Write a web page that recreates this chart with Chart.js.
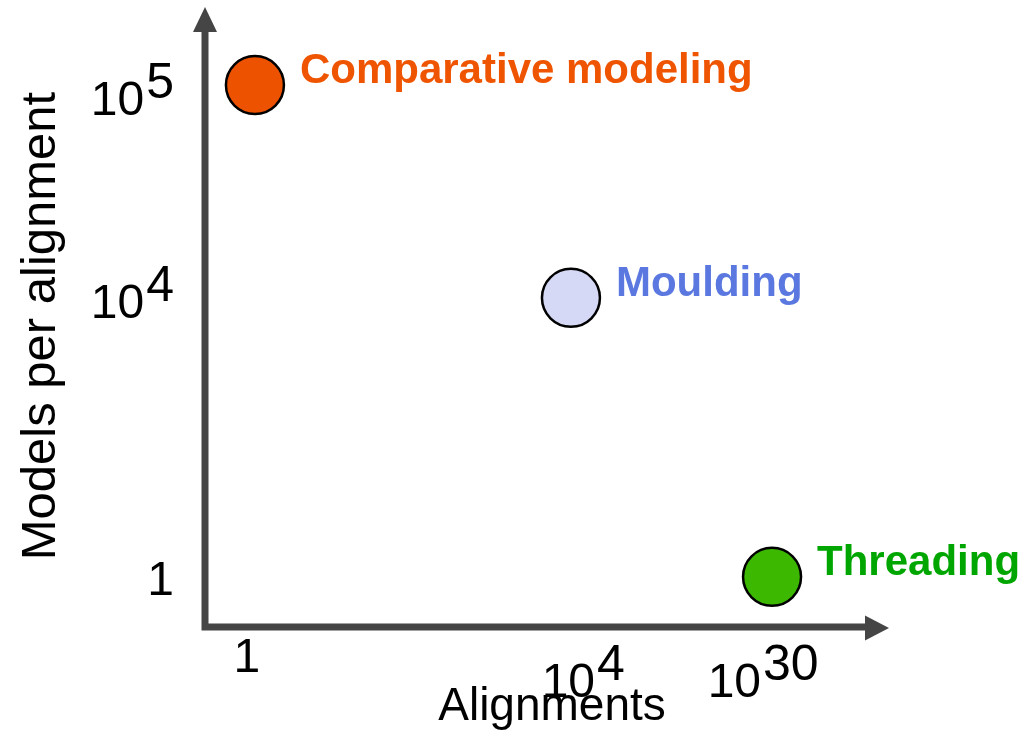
<!DOCTYPE html>
<html>
<head>
<meta charset="utf-8">
<script src="https://cdn.jsdelivr.net/npm/chart.js@4/dist/chart.umd.min.js"></script>
<style>
  html, body { margin: 0; padding: 0; background: #fff; }
  #wrap { width: 1033px; height: 734px; position: relative; }
</style>
</head>
<body>
<div id="wrap"><canvas id="chart"></canvas></div>
<script>
// schematic positions (axis units 0..10)
const methods   = ['Comparative modeling', 'Moulding', 'Threading'];
const alignPos  = [0.73, 5.35, 8.29];
const modelsPos = [8.74, 5.31, 0.81];
const fills     = ['#ec5200', '#d5d9f5', '#3cb800'];
const labelCols = ['#ef5500', '#5a78e0', '#00a600'];

const xTickPos  = [0.61, 5.53, 8.16];
const xTickBase = ['1', '10', '10'];
const xTickExp  = ['', '4', '30'];
const yTickPos  = [8.54, 5.27, 0.80];
const yTickBase = ['10', '10', '1'];
const yTickExp  = ['5', '4', ''];

const FONT = '"Liberation Sans", Arial, Helvetica, sans-serif';
const AXIS = '#454545';

// measure "10" + superscript as one label
function powWidth(ctx, base, exp) {
  ctx.font = '48px ' + FONT;
  let w = ctx.measureText(base).width;
  if (exp) {
    ctx.font = '50px ' + FONT;
    w += 2 + ctx.measureText(exp).width;
  }
  return w;
}

function drawPow(ctx, base, exp, left, baseline) {
  ctx.textAlign = 'left';
  ctx.textBaseline = 'alphabetic';
  ctx.font = '48px ' + FONT;
  ctx.fillText(base, left, baseline);
  if (exp) {
    const bw = ctx.measureText(base).width;
    ctx.font = '50px ' + FONT;
    ctx.fillText(exp, left + bw + 2, baseline - 17);
  }
}

const schematic = {
  id: 'schematic',
  beforeDatasetsDraw(chart) {
    const { ctx, chartArea: a } = chart;
    ctx.save();
    ctx.strokeStyle = AXIS;
    ctx.fillStyle = AXIS;
    ctx.lineWidth = 7;
    ctx.lineJoin = 'miter';
    ctx.beginPath();
    ctx.moveTo(a.left, a.top + 25);
    ctx.lineTo(a.left, a.bottom);
    ctx.lineTo(a.right - 24, a.bottom);
    ctx.stroke();
    // arrow heads
    ctx.beginPath();
    ctx.moveTo(a.left, a.top);
    ctx.lineTo(a.left + 12, a.top + 25);
    ctx.lineTo(a.left - 12, a.top + 25);
    ctx.closePath();
    ctx.fill();
    ctx.beginPath();
    ctx.moveTo(a.right, a.bottom + 1);
    ctx.lineTo(a.right - 24, a.bottom + 13.5);
    ctx.lineTo(a.right - 24, a.bottom - 11.5);
    ctx.closePath();
    ctx.fill();
    ctx.restore();
  },
  afterDatasetsDraw(chart) {
    const { ctx, chartArea: a, scales: { x, y } } = chart;
    ctx.save();
    ctx.fillStyle = '#000';

    // x tick labels, top aligned under the axis
    xTickPos.forEach((v, i) => {
      const w = powWidth(ctx, xTickBase[i], xTickExp[i]);
      const left = x.getPixelForValue(v) - w / 2;
      const baseline = xTickExp[i] ? a.bottom + 70 : a.bottom + 45;
      drawPow(ctx, xTickBase[i], xTickExp[i], left, baseline);
    });

    // y tick labels, right aligned left of the axis
    yTickPos.forEach((v, i) => {
      const w = powWidth(ctx, yTickBase[i], yTickExp[i]);
      const left = a.left - 31 - w;
      drawPow(ctx, yTickBase[i], yTickExp[i], left, y.getPixelForValue(v) + 17.5);
    });

    // axis titles
    ctx.font = '46px ' + FONT;
    ctx.textAlign = 'center';
    ctx.textBaseline = 'alphabetic';
    ctx.fillText('Alignments', 552, a.bottom + 93);

    ctx.save();
    ctx.translate(55, 326);
    ctx.rotate(-Math.PI / 2);
    ctx.font = '49px ' + FONT;
    ctx.fillText('Models per alignment', 0, 0);
    ctx.restore();

    // point labels
    const meta = chart.getDatasetMeta(0);
    ctx.font = 'bold 42px ' + FONT;
    ctx.textAlign = 'left';
    meta.data.forEach((pt, i) => {
      ctx.fillStyle = labelCols[i];
      ctx.fillText(methods[i], pt.x + 45, pt.y - 2);
    });
    ctx.restore();
  }
};

new Chart(document.getElementById('chart'), {
  type: 'scatter',
  data: {
    labels: methods,
    datasets: [{
      data: alignPos.map((v, i) => ({ x: v, y: modelsPos[i] })),
      backgroundColor: fills,
      borderColor: '#000',
      borderWidth: 2.5,
      pointRadius: 29,
      pointHoverRadius: 29,
    }],
  },
  options: {
    responsive: true,
    maintainAspectRatio: false,
    animation: false,
    events: [],
    layout: { autoPadding: false, padding: { left: 205, right: 144, top: 7, bottom: 107 } },
    plugins: { legend: { display: false }, tooltip: { enabled: false } },
    scales: {
      x: { type: 'linear', min: 0, max: 10, display: false },
      y: { type: 'linear', min: 0, max: 10, display: false },
    },
  },
  plugins: [schematic],
});
</script>
</body>
</html>
